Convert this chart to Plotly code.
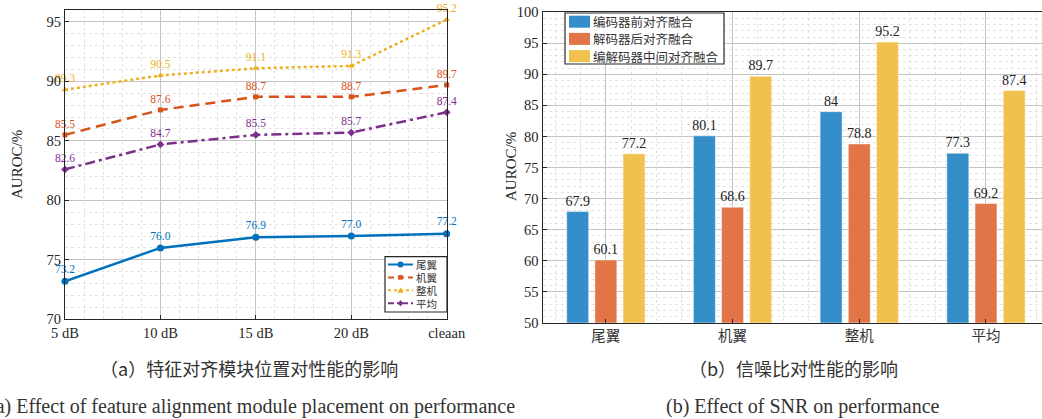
import plotly.graph_objects as go

# ---------------- data ----------------
snr_labels = ["5 dB", "10 dB", "15 dB", "20 dB", "cleaan"]
tail = [73.2, 76.0, 76.9, 77.0, 77.2]        # 尾翼
wing = [85.5, 87.6, 88.7, 88.7, 89.7]        # 机翼
whole = [89.3, 90.5, 91.1, 91.3, 95.2]       # 整机
avg = [82.6, 84.7, 85.5, 85.7, 87.4]         # 平均
line_names = ["尾翼", "机翼", "整机", "平均"]

bar_cats = ["尾翼", "机翼", "整机", "平均"]
enc_front = [67.9, 80.1, 84, 77.3]           # 编码器前对齐融合
dec_back = [60.1, 68.6, 78.8, 69.2]          # 解码器后对齐融合
enc_dec_mid = [77.2, 89.7, 95.2, 87.4]       # 编解码器中间对齐融合
bar_names = ["编码器前对齐融合", "解码器后对齐融合", "编解码器中间对齐融合"]

# ---------------- styles ----------------
SERIF = "Liberation Serif, 'Noto Sans CJK SC', serif"
CJK = "'Noto Sans CJK SC', sans-serif"
line_colors = ["#0072BD", "#D95319", "#EDB120", "#7E2F8E"]
bar_colors = ["#338ECA", "#E17547", "#F1C14D"]
AX = "#262626"
MAJ = "#c4c4c4"
MIN = "#e2e2e2"

W, H = 1042, 419
def px_x(p): return p / W
def px_y(p): return 1 - p / H

fig = go.Figure()

xs = list(range(len(snr_labels)))
series = [tail, wing, whole, avg]
symbols = ["circle", "square", "triangle-up", "diamond"]
msizes = [7, 5, 6, 6]
dashes = ["solid", "10px,6px", "dot", "10px,4px,3px,4px"]
for name, ys, col, sym, ms, dsh in zip(line_names, series, line_colors, symbols, msizes, dashes):
    fig.add_trace(go.Scatter(
        x=xs, y=ys, name=name, mode="lines+markers+text",
        line=dict(color=col, width=2.5, dash=dsh),
        marker=dict(symbol=sym, size=ms, color=col),
        text=[f"{v:.1f}" for v in ys], textposition="top center",
        textfont=dict(family=SERIF, size=11.5, color=col),
        cliponaxis=False, xaxis="x", yaxis="y", showlegend=False,
    ))

bxs = list(range(len(bar_cats)))
for name, ys, col in zip(bar_names, [enc_front, dec_back, enc_dec_mid], bar_colors):
    fig.add_trace(go.Bar(
        x=bxs, y=ys, name=name,
        marker=dict(color=col, line=dict(color="rgba(255,255,255,0.6)", width=0.8)),
        text=[f"{v:g}" for v in ys], textposition="outside", texttemplate="%{text}",
        textfont=dict(family=SERIF, size=14, color="#222"), constraintext="none",
        cliponaxis=False, xaxis="x2", yaxis="y2", showlegend=False,
    ))

common_axis = dict(
    showline=True, linecolor=AX, linewidth=1, mirror=True,
    ticks="inside", ticklen=4, tickcolor=AX, automargin=False,
    showgrid=True, gridcolor=MAJ, gridwidth=1, zeroline=False,
    tickfont=dict(family=SERIF, size=14.5, color=AX),
)

fig.update_layout(
    width=W, height=H, margin=dict(l=0, r=0, t=0, b=0, autoexpand=False),
    paper_bgcolor="white", plot_bgcolor="white",
    barmode="group", bargap=0.333, bargroupgap=0.22,
    showlegend=False,
    xaxis=dict(common_axis, domain=[px_x(65), px_x(446.7)], range=[0, 4],
               tickmode="array", tickvals=xs, ticktext=snr_labels,
               minor=dict(dtick=0.2, tick0=0, showgrid=True, gridcolor=MIN, griddash="dot", ticks=""),
               anchor="y"),
    yaxis=dict(common_axis, domain=[px_y(319.3), px_y(10)], range=[70, 96],
               tickmode="array", tickvals=[70, 75, 80, 85, 90, 95],
               minor=dict(dtick=1, tick0=70, showgrid=True, gridcolor=MIN, griddash="dot", ticks=""),
               anchor="x"),
    xaxis2=dict(common_axis, domain=[px_x(542.5), 1.0], range=[-0.5, 3.442],
                tickmode="array", tickvals=bxs, ticktext=bar_cats,
                tickfont=dict(family=CJK, size=14.5, color="#333"),
                minor=dict(dtick=0.2, tick0=0, showgrid=True, gridcolor=MIN, griddash="dot", ticks=""),
                anchor="y2"),
    yaxis2=dict(common_axis, domain=[px_y(322.7), px_y(12.3)], range=[50, 100], mirror=False,
                tickmode="array", tickvals=list(range(50, 101, 5)),
                minor=dict(dtick=1, tick0=50, showgrid=True, gridcolor=MIN, griddash="dot", ticks=""),
                anchor="x2"),
)

# axis titles
for cx, cy in [(17, 165), (511, 167)]:
    fig.add_annotation(x=px_x(cx), y=px_y(cy), xref="paper", yref="paper", text="AUROC/%",
                       textangle=-90, showarrow=False, xanchor="center", yanchor="middle",
                       font=dict(family=SERIF, size=15, color=AX))

# ---------- legend (left chart) ----------
def rect(x0, y0, x1, y1, **kw):
    fig.add_shape(type="rect", xref="paper", yref="paper",
                  x0=px_x(x0), x1=px_x(x1), y0=px_y(y1), y1=px_y(y0), **kw)

rect(385, 256.7, 447, 312, line=dict(color=AX, width=1.2), fillcolor="white", layer="above")
leg_dash = ["solid", "6px,4px", "dot", "6px,3px,2px,3px"]
for i, (name, col, dsh, sym) in enumerate(zip(line_names, line_colors, leg_dash, symbols)):
    cy = 264.5 + i * 12.9
    fig.add_shape(type="line", xref="paper", yref="paper", layer="above",
                  x0=px_x(388), x1=px_x(413), y0=px_y(cy), y1=px_y(cy),
                  line=dict(color=col, width=2, dash=dsh))
    mx = 400.5
    if sym == "circle":
        fig.add_shape(type="circle", xref="paper", yref="paper", layer="above",
                      x0=px_x(mx - 3), x1=px_x(mx + 3), y0=px_y(cy + 3), y1=px_y(cy - 3),
                      fillcolor=col, line=dict(color=col, width=0))
    elif sym == "square":
        rect(mx - 2.3, cy - 2.3, mx + 2.3, cy + 2.3, fillcolor=col, line=dict(color=col, width=0), layer="above")
    else:
        if sym == "triangle-up":
            pts = [(mx, cy - 3), (mx + 3, cy + 2.5), (mx - 3, cy + 2.5)]
        else:
            pts = [(mx, cy - 3.2), (mx + 2.5, cy), (mx, cy + 3.2), (mx - 2.5, cy)]
        path = "M " + " L ".join(f"{px_x(a)},{px_y(b)}" for a, b in pts) + " Z"
        fig.add_shape(type="path", xref="paper", yref="paper", layer="above", path=path,
                      fillcolor=col, line=dict(color=col, width=0))
    fig.add_annotation(x=px_x(415), y=px_y(cy), xref="paper", yref="paper", text=name,
                       showarrow=False, xanchor="left", yanchor="middle",
                       font=dict(family=CJK, size=10.5, color="#333"), borderpad=0)

# ---------- legend (right chart) ----------
rect(565, 13, 724, 64, line=dict(color=AX, width=1.2), fillcolor="white", layer="above")
for i, (name, col) in enumerate(zip(bar_names, bar_colors)):
    cy = 21.7 + i * 17.2
    rect(569, cy - 6, 590, cy + 6, fillcolor=col, line=dict(color=col, width=0), layer="above")
    fig.add_annotation(x=px_x(591.5), y=px_y(cy), xref="paper", yref="paper", text=name,
                       showarrow=False, xanchor="left", yanchor="middle",
                       font=dict(family=CJK, size=12.5, color="#333"), borderpad=0)

# ---------- captions ----------
captions = [
    (249, 368, "（a）特征对齐模块位置对性能的影响", CJK, 18),
    (793, 368, "（b）信噪比对性能的影响", CJK, 18),
    (252, 406, "(a) Effect of feature alignment module placement on performance", SERIF, 20),
    (803, 406, "(b) Effect of SNR on performance", SERIF, 20),
]
for cx, cy, txt, fam, fs in captions:
    fig.add_annotation(x=px_x(cx), y=px_y(cy), xref="paper", yref="paper",
                       text=txt, showarrow=False, xanchor="center", yanchor="middle",
                       font=dict(family=fam, size=fs, color="#333"))

fig.write_html("out.html")
